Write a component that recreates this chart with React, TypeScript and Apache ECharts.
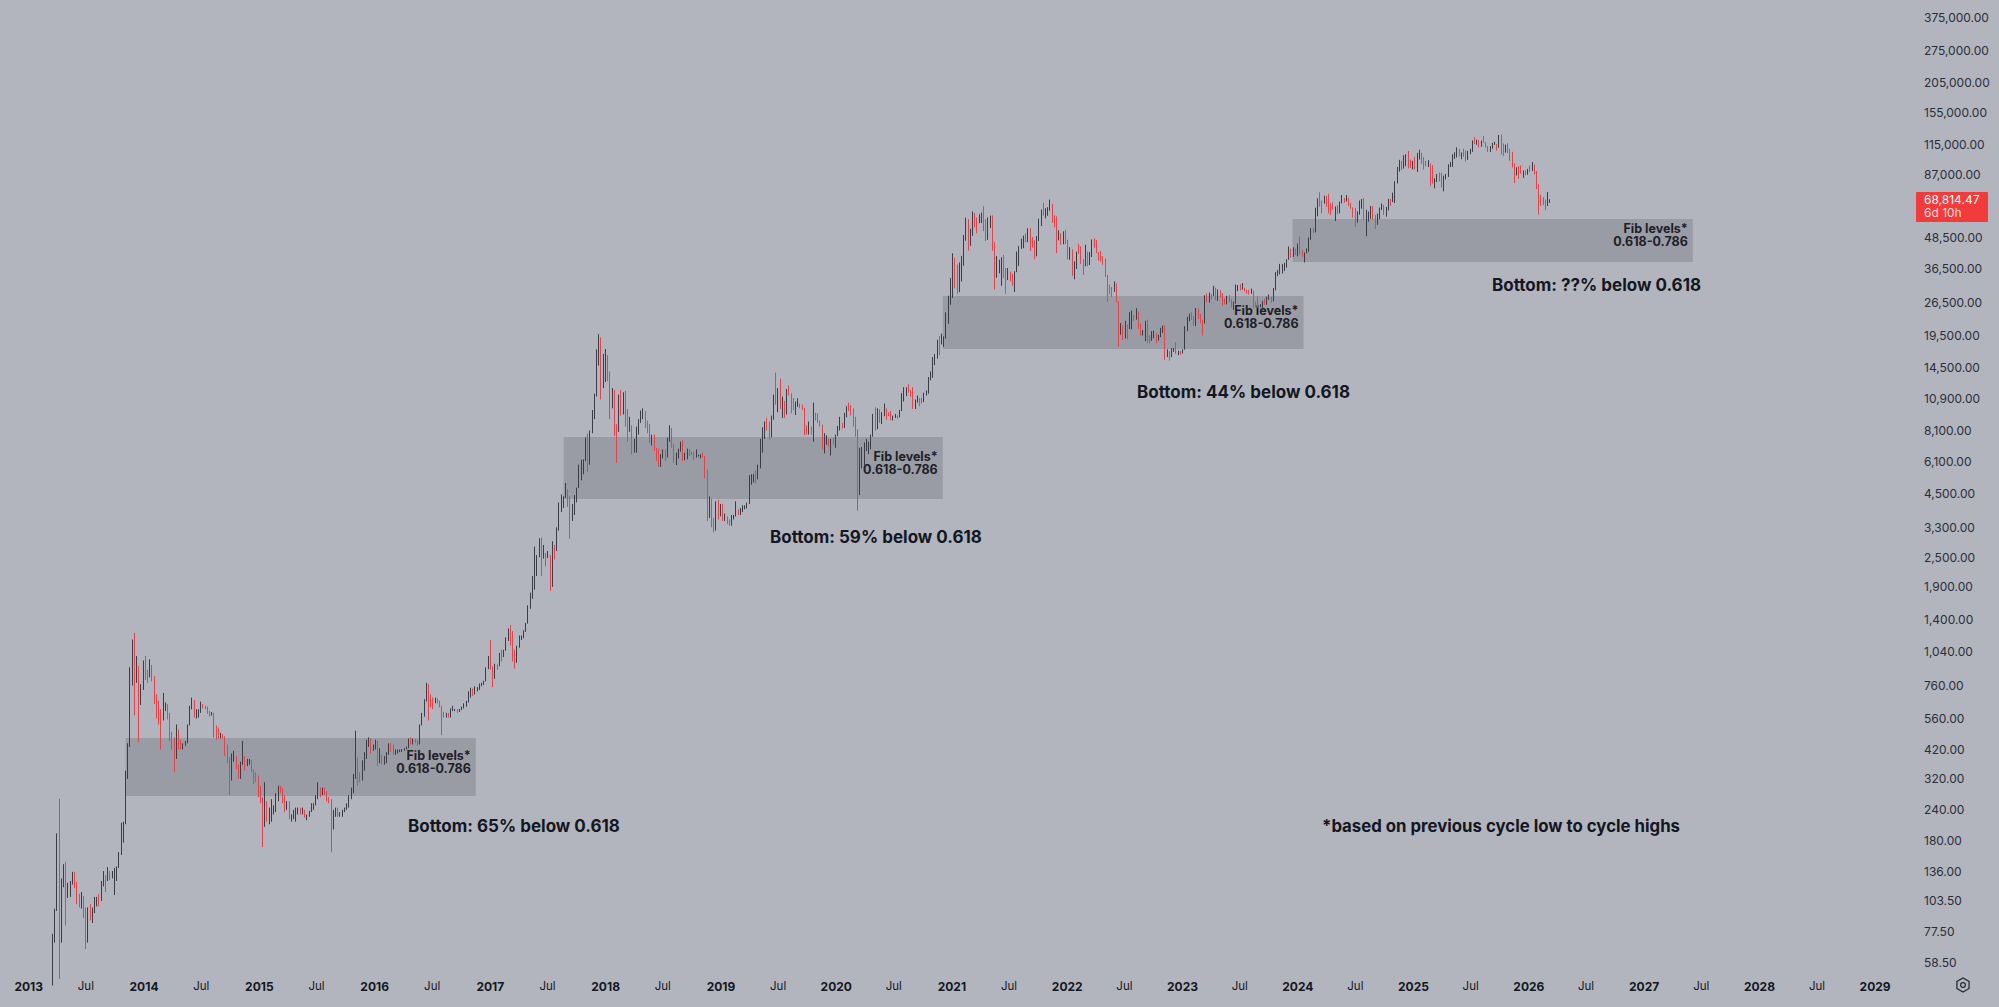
import React, { useEffect, useRef } from "react";
import * as echarts from "echarts";

// ---------- data ----------
// weekly candles, first week starts Monday 2013-03-04; each item [close, high, low]
const FIRST_WEEK = Date.UTC(2013, 2, 4);
const FIRST_OPEN = 34;

const w2013 = [
  [46, 48, 34], [47, 48, 44], [71, 76, 47], [94, 96, 70], [162, 193, 94], [90, 266, 50], [119, 127, 70], [128, 145, 117], [115, 148, 82], [117, 122, 106],
  [123, 124, 107], [133, 135, 120], [122, 135, 116], [101, 123, 100], [100, 110, 97], [108, 112, 96], [96, 108, 88], [77, 97, 66], [95, 97, 70], [92, 100, 86],
  [96, 97, 84], [104, 107, 92], [106, 107, 98], [104, 110, 98], [122, 124, 103], [131, 136, 118], [124, 131, 112], [135, 141, 124], [128, 136, 125], [133, 136, 127],
  [136, 140, 109], [140, 142, 124], [158, 162, 140], [181, 213, 158], [213, 215, 177], [336, 345, 210], [438, 445, 320], [805, 900, 430], [960, 1165, 760], [805, 1240, 576],
  [875, 1000, 780], [650, 910, 450], [740, 770, 635], [920, 960, 730],
];
const w2014 = [
  [870, 1000, 800], [835, 880, 780], [915, 970, 820], [810, 920, 790], [680, 830, 640], [620, 700, 560], [610, 660, 530], [565, 600, 420], [630, 710, 550], [635, 650, 600],
  [585, 640, 555], [480, 590, 455], [445, 495, 420], [415, 470, 340], [500, 530, 385], [440, 505, 420], [435, 460, 420], [440, 445, 420], [445, 455, 435], [525, 530, 445],
  [625, 630, 525], [655, 680, 610], [585, 665, 565], [590, 610, 560], [595, 610, 565], [635, 655, 590], [625, 640, 615], [620, 630, 610], [595, 625, 585], [585, 600, 570],
  [590, 595, 575], [520, 590, 470], [505, 525, 460], [480, 515, 465], [480, 490, 465], [475, 485, 465], [400, 475, 395], [375, 440, 370], [320, 390, 275], [390, 405, 315],
  [390, 415, 375], [360, 395, 350], [325, 365, 320], [365, 375, 320], [380, 455, 365], [375, 395, 345], [375, 385, 360], [375, 385, 365], [350, 380, 340], [330, 350, 305],
  [315, 340, 310], [275, 330, 270],
];
const w2015 = [
  [260, 300, 255], [210, 270, 170], [255, 310, 205], [225, 260, 215], [225, 245, 210], [235, 265, 215], [245, 250, 230], [275, 280, 235], [290, 300, 260], [285, 300, 280],
  [270, 295, 255], [250, 275, 235], [255, 260, 240], [225, 260, 220], [225, 230, 215], [230, 240, 220], [240, 245, 215], [240, 245, 230], [235, 245, 230], [240, 245, 230],
  [225, 240, 223], [225, 230, 218], [235, 238, 225], [245, 255, 235], [250, 255, 240], [270, 275, 250], [290, 310, 265], [275, 295, 270], [290, 295, 275], [280, 295, 275],
  [265, 285, 260], [260, 270, 255], [230, 265, 162], [230, 240, 200], [240, 245, 225], [230, 245, 225], [230, 235, 225], [235, 240, 225], [240, 245, 235], [250, 255, 240],
  [270, 275, 245], [285, 295, 265], [325, 335, 280], [385, 500, 320], [330, 390, 300], [325, 340, 310], [375, 380, 315], [390, 410, 345], [435, 460, 385], [455, 470, 430],
  [420, 465, 405], [430, 440, 415],
];
const w2016 = [
  [448, 460, 420], [385, 455, 360], [395, 425, 370], [375, 400, 365], [375, 395, 365], [405, 410, 370], [440, 445, 400], [435, 445, 410], [410, 440, 400], [410, 420, 400],
  [410, 420, 405], [415, 420, 410], [420, 422, 410], [420, 425, 415], [430, 432, 420], [460, 465, 425], [445, 470, 440], [460, 465, 440], [455, 462, 445], [440, 457, 435],
  [525, 530, 440], [580, 590, 525], [665, 670, 570], [760, 780, 655], [665, 770, 550], [660, 700, 620], [650, 680, 610], [665, 680, 645], [655, 675, 645], [625, 660, 620],
  [585, 630, 480], [570, 595, 565], [580, 590, 565], [575, 590, 565], [605, 615, 565], [610, 630, 600], [610, 612, 600], [600, 610, 590], [610, 612, 595], [620, 625, 605],
  [640, 645, 615], [655, 660, 625], [700, 720, 650], [705, 745, 680], [700, 740, 690], [730, 755, 705], [735, 750, 720], [765, 775, 730], [775, 780, 755], [790, 795, 765],
  [895, 900, 790], [995, 1000, 885],
];
const w2017 = [
  [905, 1160, 880], [820, 910, 750], [920, 930, 810], [915, 925, 880], [1020, 1030, 910], [1000, 1060, 950], [1050, 1060, 990], [1150, 1190, 1050], [1270, 1290, 1150], [1240, 1330, 1100],
  [1030, 1260, 950], [965, 1060, 890], [1090, 1100, 940], [1180, 1210, 1080], [1180, 1210, 1160], [1260, 1270, 1180], [1350, 1360, 1250], [1560, 1600, 1350], [1730, 1800, 1550], [2050, 2100, 1700],
  [2150, 2760, 1850], [2540, 2550, 2100], [2960, 2980, 2500], [2470, 3000, 2100], [2560, 2800, 2500], [2490, 2600, 2300], [2510, 2650, 2480], [1930, 2550, 1830], [2760, 2900, 1900], [2730, 2800, 2450],
  [3230, 3300, 2650], [4050, 4150, 3200], [4080, 4480, 3800], [4340, 4400, 3950], [4650, 4980, 4340], [4150, 4700, 3980], [3680, 4400, 2970], [3780, 4100, 3500], [4370, 4450, 3700], [4760, 4770, 4160],
  [5700, 5900, 4750], [6000, 6180, 5100], [6140, 6200, 5400], [7370, 7600, 6100], [5900, 7880, 5500], [8000, 8100, 5900], [9700, 9800, 7900], [11300, 11400, 9000], [15200, 17200, 11100], [19100, 19800, 14800],
  [13900, 19200, 10800], [13900, 16500, 12000],
];
const w2018 = [
  [14100, 17250, 12700], [13700, 16300, 12800], [11600, 14000, 9000], [11750, 12000, 9950], [8200, 11800, 7700], [8100, 8600, 6000], [10400, 11300, 8000], [9600, 11800, 9300], [11500, 11550, 9400], [9550, 11700, 8400],
  [8200, 9900, 7300], [8450, 9200, 8000], [6950, 8500, 6500], [7000, 7500, 6600], [8300, 8400, 6600], [8900, 9000, 7800], [9400, 9750, 8700], [9650, 9950, 9000], [8700, 9700, 8300], [8500, 8880, 7900],
  [7350, 8600, 7200], [7700, 7800, 7050], [6750, 7800, 6700], [6450, 6900, 6100], [6150, 6850, 5800], [6350, 6500, 5780], [6750, 6800, 6250], [6350, 6800, 6100], [7400, 7580, 6300], [8200, 8500, 7300],
  [7030, 8300, 6900], [6300, 7150, 6000], [6400, 6600, 5880], [6700, 6850, 6250], [7200, 7300, 6650], [6200, 7400, 6100], [6500, 6600, 6150], [6700, 6850, 6200], [6620, 6800, 6400], [6600, 6650, 6450],
  [6300, 6650, 6150], [6400, 6800, 6350], [6400, 6470, 6360], [6480, 6500, 6250], [6350, 6600, 6300], [5600, 6400, 5200], [3900, 5650, 3500], [4100, 4400, 3600], [3550, 4300, 3300], [3230, 3600, 3150],
  [4000, 4200, 3200], [3850, 4250, 3550],
];
const w2019 = [
  [4050, 4100, 3650], [3550, 4100, 3500], [3550, 3750, 3500], [3450, 3650, 3400], [3400, 3550, 3350], [3600, 3700, 3350], [3650, 3700, 3550], [3850, 4200, 3650], [3800, 3900, 3700], [3900, 3950, 3700],
  [4000, 4050, 3800], [4000, 4050, 3900], [4100, 4150, 3930], [5050, 5350, 4100], [5100, 5400, 4900], [5300, 5400, 5000], [5270, 5600, 4950], [5800, 5900, 5150], [7250, 7500, 5700], [8000, 8350, 6600],
  [8750, 8800, 7500], [8700, 9100, 8100], [7800, 8800, 7450], [8950, 9300, 7600], [10850, 11300, 8950], [10800, 13880, 10300], [11250, 12000, 9600], [10200, 13100, 9900], [10550, 11100, 9100], [9500, 10650, 9100],
  [11800, 11900, 9400], [11300, 12300, 11200], [10300, 11450, 9500], [10150, 10950, 9800], [10400, 10600, 9350], [10400, 10920, 10100], [10300, 10400, 9950], [10000, 10300, 9800], [8050, 10000, 7750], [7850, 8500, 7800],
  [8300, 8800, 7800], [7950, 8400, 7800], [9550, 10500, 7300], [9300, 9500, 8900], [8800, 9500, 8700], [8500, 8900, 8400], [7050, 8550, 6800], [7400, 7900, 6550], [7500, 7750, 7100], [7100, 7450, 7000],
  [7500, 7500, 6430], [7300, 7550, 7100],
];
const w2020 = [
  [7750, 7800, 6900], [8200, 8450, 7700], [8700, 9200, 8100], [8350, 8700, 8250], [9400, 9550, 8300], [10150, 10150, 9150], [9900, 10500, 9700], [9700, 10250, 9300], [8550, 9950, 8400], [8050, 9200, 7650],
  [5400, 8200, 3850], [5800, 6900, 4450], [5900, 6950, 5700], [6750, 7250, 5850], [7100, 7500, 6700], [7150, 7300, 6500], [7700, 7800, 6800], [8900, 9450, 7650], [8700, 10050, 8100], [9700, 9950, 8200],
  [8700, 9850, 8700], [9450, 9600, 8600], [9650, 10400, 9250], [9450, 9950, 8950], [9300, 9600, 9250], [9100, 9700, 8900], [9100, 9300, 8900], [9250, 9450, 9100], [9200, 9300, 9050], [9700, 9800, 9150],
  [11050, 11450, 9700], [11600, 12100, 10600], [11900, 12100, 11150], [11750, 12450, 11500], [11700, 11800, 11100], [10300, 12100, 9900], [10650, 10800, 9900], [10950, 11200, 10500], [10750, 10950, 10150], [10650, 10950, 10400],
  [11450, 11500, 10550], [11500, 11750, 11200], [13000, 13300, 11400], [13800, 14000, 12900], [15950, 16000, 13200], [16050, 16450, 14850], [18400, 18800, 15800], [18200, 19450, 16300], [19150, 19900, 18000], [19250, 19400, 17600],
  [23850, 24250, 19000], [26450, 28300, 21800], [32200, 33300, 26000],
];
const w2021 = [
  [38150, 41950, 27700], [36000, 40100, 30300], [32100, 37800, 28800], [33100, 38500, 29250], [39200, 40950, 32300], [48600, 49700, 37350], [57500, 58350, 47100], [45250, 57500, 43000], [50950, 52650, 44950], [59000, 61780, 49300],
  [57350, 61000, 53300], [55850, 58400, 50500], [57100, 60200, 55500], [59800, 61200, 55500], [56200, 64900, 51500], [49100, 57500, 47000], [56600, 58500, 47500], [58200, 59500, 53000], [46400, 59600, 42900], [34750, 46600, 30000],
  [35600, 40850, 33400], [35800, 39500, 34800], [39000, 40400, 31000], [35500, 41300, 33300], [34700, 36600, 28800], [35300, 36600, 32700], [34250, 35000, 32300], [31800, 34650, 31000], [35400, 35500, 29300], [39850, 42600, 35200],
  [44400, 44800, 37300], [47000, 48100, 43700], [49300, 49400, 43950], [48800, 50500, 46400], [51750, 52850, 46500], [48300, 52900, 42800], [47300, 48800, 44200], [43200, 45000, 39600], [48200, 49200, 40800], [57500, 57800, 47000],
  [61500, 62900, 54000], [60900, 67000, 59500], [61300, 63700, 58000], [63300, 64300, 59400], [65500, 69000, 62300], [59700, 66300, 55600], [57300, 59600, 53300], [49400, 59100, 42000], [50100, 51900, 47300], [46700, 50500, 45500],
  [50800, 51400, 45600], [47300, 52000, 45700],
];
const w2022 = [
  [41850, 47550, 39650], [43100, 44400, 39500], [36300, 43500, 34000], [37900, 38900, 32950], [42400, 42600, 36250], [42200, 45800, 41700], [38350, 44700, 38000], [37700, 39700, 34300], [38000, 45400, 37200], [37800, 42550, 37200],
  [41300, 42400, 37600], [46850, 47700, 40500], [46400, 48200, 44200], [42150, 47400, 42000], [40400, 42400, 39200], [39450, 42900, 38800], [38450, 40800, 37700], [34050, 39900, 33700], [31300, 34300, 26700], [30300, 31350, 28650],
  [29450, 30650, 28000], [29900, 32350, 29300], [26550, 31700, 26550], [20550, 26850, 17600], [21050, 21950, 19700], [19300, 21500, 18750], [20850, 22400, 19050], [20800, 21600, 18900], [22600, 24300, 20750], [23300, 24650, 20700],
  [23200, 23650, 22400], [24300, 25200, 22650], [21500, 24450, 20800], [19550, 21850, 19550], [19800, 20550, 19550], [21800, 22400, 18550], [19400, 22650, 18250], [18800, 19650, 18150], [19300, 20350, 18600], [19400, 20450, 19050],
  [19050, 19950, 18200], [19550, 19700, 18650], [20650, 21000, 19250], [21300, 21450, 20050], [16300, 21500, 15600], [16700, 17200, 16000], [16450, 16900, 15500], [17100, 17400, 16000], [17100, 17400, 16800], [16800, 18400, 16500],
  [16850, 17000, 16300], [16700, 16950, 16350],
];
const w2023 = [
  [17150, 17200, 16550], [20900, 21300, 17150], [22700, 23300, 20350], [23750, 23950, 22300], [23300, 24250, 22600], [21800, 23400, 21400], [24650, 25250, 21350], [23550, 25100, 22800], [22400, 23900, 21900], [22150, 22600, 19550],
  [28000, 28400, 21850], [27950, 28900, 26600], [28450, 29150, 26550], [28350, 28800, 27250], [30300, 31000, 28150], [27800, 30500, 27150], [29250, 30000, 26950], [28850, 29800, 27700], [26900, 29000, 25800], [26750, 27650, 26100],
  [28100, 28250, 26100], [27100, 28450, 26600], [25900, 27400, 25350], [26350, 26800, 24800], [30500, 31400, 26250], [30600, 31250, 29500], [30200, 31500, 29700], [30250, 31800, 29950], [29850, 30400, 29550], [29300, 29600, 28850],
  [29050, 29900, 28600], [29400, 30250, 28800], [26100, 29650, 25150], [26000, 26800, 25350], [25850, 28150, 25350], [25850, 26200, 25400], [26550, 27000, 24900], [26250, 27500, 26000], [27950, 28050, 26000], [27950, 28600, 27200],
  [26850, 28000, 26550], [29950, 30350, 26950], [34550, 35200, 29750], [35050, 35950, 33900], [37050, 38000, 34500], [37350, 37950, 34800], [37450, 38400, 35650], [39450, 39700, 36700], [43800, 44700, 39450], [41350, 43450, 40200],
  [43650, 44300, 40550], [42300, 43800, 41300],
];
const w2024 = [
  [43950, 45900, 40750], [41750, 49000, 41500], [41600, 43200, 40650], [42050, 42250, 38550], [42600, 43850, 41900], [48300, 48550, 42550], [52150, 52950, 47550], [51700, 52950, 50550], [63100, 64000, 50900], [68950, 69850, 59100],
  [68400, 73800, 64550], [67200, 68100, 60750], [69650, 71550, 66450], [69350, 71300, 64550], [65650, 72750, 60650], [64950, 66850, 59600], [63150, 67200, 62800], [63900, 64700, 56550], [61500, 65450, 60200], [66950, 67700, 60750],
  [68500, 71950, 66600], [67750, 70000, 67100], [69650, 71950, 68500], [66650, 70200, 65100], [64250, 66950, 63350], [62700, 63400, 58400], [57950, 63800, 53500], [60800, 61850, 55750], [68200, 68400, 59950], [68250, 69400, 63450],
  [58150, 70000, 57150], [58700, 62750, 49100], [58950, 61800, 56200], [64250, 65050, 57800], [57300, 64950, 57200], [54850, 59800, 52550], [59150, 60650, 54600], [63600, 64100, 57500], [65600, 66500, 62700], [62800, 65600, 59850],
  [62850, 64500, 58900], [69000, 69500, 62400], [67950, 69500, 65100], [68750, 73600, 67450], [80450, 81800, 66800], [89850, 93450, 80200], [97900, 99800, 89450], [97200, 98800, 90800], [101200, 104050, 92000], [104300, 105250, 94150],
  [95200, 108350, 92150], [93750, 99950, 92500],
];
const w2025 = [
  [98350, 98950, 91300], [94500, 102700, 91200], [101300, 106400, 89200], [104700, 109600, 100000], [97700, 106450, 96200], [96500, 102500, 91200], [96150, 98800, 94100], [96250, 99500, 93400], [94250, 96500, 78200], [80700, 95000, 80000],
  [82600, 84100, 76600], [86100, 87450, 81150], [82350, 88750, 81650], [78350, 88500, 77150], [83750, 86100, 74500], [87500, 87600, 83150], [93750, 95750, 85150], [94300, 97900, 93350], [104650, 104950, 93400], [106450, 107100, 100700],
  [109000, 111950, 102000], [105700, 110400, 103100], [105750, 106800, 100400], [105550, 110500, 102650], [100950, 108900, 98200], [108400, 108500, 99700], [109200, 110500, 105150], [119100, 119500, 107500], [117300, 123200, 115700], [119500, 120250, 114700],
  [114200, 120000, 111900], [119300, 119300, 112700], [117400, 124500, 116800], [113500, 117600, 111700], [108250, 113500, 107300], [111150, 113400, 107250], [115250, 116800, 110700], [115300, 117900, 114750], [112150, 115450, 108650], [123500, 125700, 111600],
  [115000, 126200, 104800], [108600, 116100, 103550], [114450, 114900, 106700], [110500, 116400, 106300], [104700, 110800, 98900], [94200, 107500, 93000], [86800, 96600, 80500], [90400, 93100, 86300], [88400, 94100, 83800], [88200, 94600, 87600],
  [88500, 90400, 84450], [87800, 90500, 86500], [91500, 91800, 86900],
];
const w2026 = [
  [90500, 94700, 89200], [95000, 97800, 90000], [88500, 95500, 87300], [78500, 90000, 76000], [70500, 79500, 60100], [68800, 72000, 65000], [67500, 70500, 65600], [65500, 69000, 62500], [67000, 74000, 65000], [68814.47, 69200, 67800],
];

const PRICE_TICKS = [58.5, 77.5, 103.5, 136, 180, 240, 320, 420, 560, 760, 1040, 1400, 1900, 2500, 3300, 4500, 6100, 8100, 10900, 14500, 19500, 26500, 36500, 48500, 87000, 115000, 155000, 205000, 275000, 375000];
const LABEL_YEARS = [2013, 2014, 2015, 2016, 2017, 2018, 2019, 2020, 2021, 2022, 2023, 2024, 2025, 2026, 2027, 2028, 2029];

// Fib boxes: [from, to, upper price, lower price]
const FIB_BOXES: [string, string, number, number][] = [
  ["2013-11-04", "2016-11-16", 467, 273],
  ["2017-08-21", "2020-12-03", 7627, 4292],
  ["2020-12-03", "2024-01-19", 28214, 17258],
  ["2023-12-15", "2027-06-04", 57650, 38680],
];
const FIB_LABEL = "Fib levels*\n0.618-0.786";
const BOTTOM_NOTES = ["Bottom: 65% below 0.618", "Bottom: 59% below 0.618", "Bottom: 44% below 0.618", "Bottom: ??% below 0.618"];
const FOOTNOTE = "*based on previous cycle low to cycle highs";
const COUNTDOWN = "6d 10h";

// ---------- layout / style ----------
const DAY = 86400000;
const YEAR_MS = 365.25 * DAY;
const T2013 = Date.UTC(2013, 0, 1);
const W = 1999;
const H = 1007;
const PLOT_RIGHT = 1915;
const PLOT_BOTTOM = 972;
const X_2013 = 28.7;
const PX_PER_YEAR = 115.4;
const REF_PRICE = 58.5;
const REF_PRICE_PX = 962;
const PX_PER_DECADE = 248.2;

const BG = "#b2b5be";
const UP = "#3a3d46";
const DOWN = "#e2444b";
const BOX = "rgba(118,121,132,0.42)";
const TXT = "#131722";
const AXIS_TXT = "#2a2e39";
const FONT = "Inter, 'Noto Sans', 'DejaVu Sans', sans-serif";

const weeks = [...w2013, ...w2014, ...w2015, ...w2016, ...w2017, ...w2018, ...w2019, ...w2020, ...w2021, ...w2022, ...w2023, ...w2024, ...w2025, ...w2026];

function buildCandles() {
  let prev = FIRST_OPEN;
  return weeks.map(([c, h, l], i) => {
    const o = prev;
    prev = c;
    return [FIRST_WEEK + i * 7 * DAY, o, c, Math.min(l, o, c), Math.max(h, o, c)];
  });
}

const fmtPrice = (n: number) =>
  n.toLocaleString("en-US", { minimumFractionDigits: 2, maximumFractionDigits: 2 });

function staticGraphics() {
  const bottomPos = [
    [408, 826],
    [770, 537],
    [1137, 392],
    [1492, 285],
  ];
  const noteFont = "bold 17px " + FONT;
  return [
    ...BOTTOM_NOTES.map((t, i) => ({
      id: "note" + i,
      type: "text",
      x: bottomPos[i][0],
      y: bottomPos[i][1],
      silent: true,
      style: { text: t, fill: TXT, font: noteFont, verticalAlign: "middle", align: "left" },
    })),
    {
      id: "foot",
      type: "text",
      x: 1322,
      y: 826,
      silent: true,
      style: { text: FOOTNOTE, fill: TXT, font: "bold 16.8px " + FONT, verticalAlign: "middle", align: "left" },
    },
    {
      id: "gear",
      type: "group",
      x: 1963,
      y: 985,
      silent: true,
      children: [
        {
          type: "polygon",
          shape: {
            points: [0, 1, 2, 3, 4, 5].map((k) => {
              const a = (Math.PI / 3) * k + Math.PI / 6;
              return [7 * Math.cos(a), 7 * Math.sin(a)];
            }),
          },
          style: { fill: "none", stroke: AXIS_TXT, lineWidth: 1.3 },
        },
        { type: "circle", shape: { cx: 0, cy: 0, r: 2.4 }, style: { fill: "none", stroke: AXIS_TXT, lineWidth: 1.3 } },
      ],
    },
  ];
}

function priceTag(py: number, lastClose: number) {
  return {
    id: "priceTag",
    type: "group",
    x: PLOT_RIGHT + 1,
    y: py - 8,
    silent: true,
    children: [
      { type: "rect", shape: { x: 0, y: 0, width: 72, height: 30, r: 1 }, style: { fill: "#f23b3b" } },
      {
        type: "text",
        x: 8,
        y: 8,
        style: { text: fmtPrice(lastClose), fill: "#ffffff", font: "12px " + FONT, verticalAlign: "middle" },
      },
      {
        type: "text",
        x: 8,
        y: 21,
        style: { text: COUNTDOWN, fill: "rgba(255,255,255,0.85)", font: "12px " + FONT, verticalAlign: "middle" },
      },
    ],
  };
}

export default function App() {
  const ref = useRef<HTMLDivElement>(null);

  useEffect(() => {
    const el = ref.current;
    if (!el) return;
    const chart = echarts.init(el, undefined, { renderer: "svg" });

    const candles = buildCandles();
    const lastClose = weeks[weeks.length - 1][0];

    const xMin = T2013 - (X_2013 / PX_PER_YEAR) * YEAR_MS;
    const xMax = T2013 + ((PLOT_RIGHT - X_2013) / PX_PER_YEAR) * YEAR_MS;
    const logTop = Math.log10(REF_PRICE) + REF_PRICE_PX / PX_PER_DECADE;
    const logBottom = Math.log10(REF_PRICE) - (PLOT_BOTTOM - REF_PRICE_PX) / PX_PER_DECADE;

    const xLabelValues: number[] = [];
    LABEL_YEARS.forEach((y) => {
      xLabelValues.push(Date.UTC(y, 0, 1));
      xLabelValues.push(Date.UTC(y, 6, 1));
    });

    const buildOption = (extra: any[]): any => ({
      animation: false,
      backgroundColor: BG,
      textStyle: { fontFamily: FONT },
      grid: { left: 0, top: 0, right: W - PLOT_RIGHT, bottom: H - PLOT_BOTTOM, containLabel: false },
      xAxis: [
        {
          type: "time",
          min: xMin,
          max: xMax,
          show: false,
          splitLine: { show: false },
        },
        {
          type: "value",
          position: "bottom",
          min: xMin,
          max: xMax,
          axisLine: { show: false },
          axisTick: { show: false },
          splitLine: { show: false },
          axisLabel: {
            customValues: xLabelValues,
            margin: 8,
            hideOverlap: false,
            color: TXT,
            fontSize: 12,
            fontFamily: FONT,
            formatter: (v: number) => {
              const d = new Date(Math.round(v));
              return d.getUTCMonth() === 0 ? "{y|" + d.getUTCFullYear() + "}" : "{m|Jul}";
            },
            rich: {
              y: { fontWeight: "bold", fontSize: 12, color: TXT, fontFamily: FONT },
              m: { fontWeight: "normal", fontSize: 11.5, color: TXT, fontFamily: FONT },
            },
          },
        },
      ],
      yAxis: [
        {
          type: "log",
          logBase: 10,
          min: Math.pow(10, logBottom),
          max: Math.pow(10, logTop),
          show: false,
          splitLine: { show: false },
        },
        {
          type: "value",
          position: "right",
          min: logBottom,
          max: logTop,
          axisLine: { show: false },
          axisTick: { show: false },
          splitLine: { show: false },
          axisLabel: {
            customValues: PRICE_TICKS.map((p) => Math.log10(p)),
            formatter: (v: number) => fmtPrice(Math.pow(10, v)),
            margin: 9,
            color: AXIS_TXT,
            fontSize: 12,
            fontFamily: FONT,
          },
        },
      ],
      series: [
        {
          type: "candlestick",
          xAxisIndex: 0,
          yAxisIndex: 0,
          large: false,
          clip: true,
          barWidth: 1.3,
          encode: { x: 0, y: [1, 2, 3, 4] },
          data: candles,
          itemStyle: {
            color: UP,
            color0: DOWN,
            borderColor: UP,
            borderColor0: DOWN,
            borderWidth: 1,
          },
          markArea: {
            silent: true,
            itemStyle: { color: BOX },
            label: {
              show: true,
              position: "insideRight",
              distance: 5,
              offset: [0, -5],
              formatter: FIB_LABEL,
              align: "right",
              color: "#1e2027",
              fontSize: 12.5,
              fontWeight: "bold",
              lineHeight: 13,
              fontFamily: FONT,
            },
            data: FIB_BOXES.map(([a, b, top, bot]) => [
              { xAxis: Date.parse(a + "T00:00:00Z"), yAxis: top },
              { xAxis: Date.parse(b + "T00:00:00Z"), yAxis: bot },
            ]),
          },
        },
      ],
      graphic: { elements: [...staticGraphics(), ...extra] },
    });

    chart.setOption(buildOption([]));
    const py = chart.convertToPixel({ yAxisIndex: 0 }, lastClose) as number;
    chart.setOption(buildOption([priceTag(py, lastClose)]), { notMerge: true });

    return () => chart.dispose();
  }, []);

  return (
    <div
      ref={ref}
      style={{ position: "fixed", left: 0, top: 0, width: "100vw", height: "100vh", background: BG }}
    />
  );
}
